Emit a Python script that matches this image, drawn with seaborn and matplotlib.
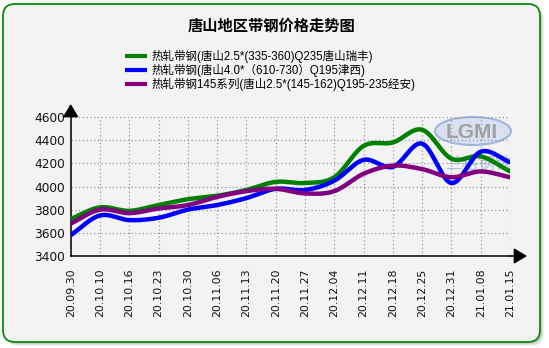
import numpy as np
import pandas as pd
import seaborn as sns
import matplotlib
matplotlib.use("Agg")
import matplotlib.pyplot as plt
from matplotlib.patches import FancyBboxPatch, Ellipse
from matplotlib.lines import Line2D

# ---- data -------------------------------------------------------------
dates = ["20.09.30", "20.10.10", "20.10.16", "20.10.23", "20.10.30", "20.11.06",
         "20.11.13", "20.11.20", "20.11.27", "20.12.04", "20.12.11", "20.12.18",
         "20.12.25", "20.12.31", "21.01.08", "21.01.15"]
ruifeng = [3720, 3820, 3790, 3840, 3890, 3920, 3970, 4040, 4030, 4080,
           4350, 4380, 4490, 4240, 4260, 4130]
jinxi = [3580, 3750, 3710, 3730, 3800, 3840, 3900, 3980, 3970, 4050,
         4230, 4170, 4370, 4030, 4300, 4210]
jingan = [3680, 3800, 3770, 3810, 3840, 3910, 3960, 3980, 3940, 3960,
          4110, 4180, 4150, 4080, 4130, 4080]
series_names = ["热轧带钢(唐山2.5*(335-360)Q235唐山瑞丰)",
                "热轧带钢(唐山4.0*（610-730）Q195津西)",
                "热轧带钢145系列(唐山2.5*(145-162)Q195-235经安)"]
series_colors = ["#008000", "#0000ff", "#800080"]
y_ticks = [3400, 3600, 3800, 4000, 4200, 4400, 4600]
title = "唐山地区带钢价格走势图"

sns.set_style("white")
plt.rcParams["font.family"] = ["Liberation Sans", "Noto Sans CJK SC", "DejaVu Sans"]
mixed = ["Liberation Sans", "Noto Sans CJK SC"]

W, H = 549, 348
fig = plt.figure(figsize=(W / 100, H / 100), dpi=100, facecolor="white")

# ---- rounded panel with soft shadow (pixel coordinates) ----------------
bg = fig.add_axes([0, 0, 1, 1], zorder=-5)
bg.set_xlim(0, W)
bg.set_ylim(H, 0)
bg.axis("off")
for off, a in [(4, 0.10), (3, 0.15), (2, 0.22)]:
    bg.add_patch(FancyBboxPatch((3 + off, 4 + off), 537, 338,
                                boxstyle="round,pad=0,rounding_size=12",
                                fc="#808080", ec="none", alpha=a))
bg.add_patch(FancyBboxPatch((3, 4), 537, 338,
                            boxstyle="round,pad=0,rounding_size=12",
                            fc="#f3f3f3", ec="#0a8a0a", lw=1.3))

# title
bg.text(272, 26, title, ha="center", va="center", fontsize=11,
        fontweight="bold", family=["Noto Sans CJK SC"], color="black")

# legend rows
for i, (name, col) in enumerate(zip(series_names, series_colors)):
    yy = 56 + i * 14
    bg.add_line(Line2D([125, 147], [yy, yy], color=col, lw=3,
                       solid_capstyle="butt"))
    bg.text(152, yy, name, ha="left", va="center", fontsize=8.3,
            family=mixed, color="black")

# watermark logo
bg.add_patch(Ellipse((473, 131), 76, 28, fc="#d3ddf0", ec="#8eaadb",
                     lw=1.5, alpha=0.8, zorder=1))
bg.text(472, 132, "LGMI", ha="center", va="center", fontsize=15,
        fontweight="bold", color="#9a9a9a", alpha=0.9, zorder=1)
bg.text(478, 164, "兰格钢铁", ha="center", va="center", fontsize=12,
        family=["Noto Sans CJK SC"], color="#a4b8da", alpha=0.85, zorder=1)

# ---- main plot ---------------------------------------------------------
ax = fig.add_axes([70.7 / W, (H - 256) / H, (510 - 70.7) / W, 139 / H])
ax.patch.set_visible(False)

x = np.arange(len(dates))


def smooth_curve(values, steps=24):
    """Cubic Hermite (Catmull-Rom) curve through the points for drawing."""
    v = np.asarray(values, float)
    m = np.gradient(v)
    xs, ys = [], []
    for i in range(len(v) - 1):
        t = np.linspace(0, 1, steps, endpoint=False)
        h00 = 2 * t**3 - 3 * t**2 + 1
        h10 = t**3 - 2 * t**2 + t
        h01 = -2 * t**3 + 3 * t**2
        h11 = t**3 - t**2
        xs.append(i + t)
        ys.append(h00 * v[i] + h10 * m[i] + h01 * v[i + 1] + h11 * m[i + 1])
    xs.append([len(v) - 1])
    ys.append([v[-1]])
    return np.concatenate(xs), np.concatenate(ys)


for vals, col in zip([ruifeng, jinxi, jingan], series_colors):
    cx, cy = smooth_curve(vals)
    sns.lineplot(x=cx, y=cy, ax=ax, color=col, lw=3.2, sort=False,
                 estimator=None, zorder=3)

ax.set_xlim(0, len(dates) - 1)
ax.set_ylim(y_ticks[0], y_ticks[-1])
ax.set_xticks(x)
ax.set_xticklabels(dates, rotation=90, fontsize=7.9, family="DejaVu Sans",
                   color="#111111")
ax.set_yticks(y_ticks)
ax.set_yticklabels([str(v) for v in y_ticks], fontsize=8.7,
                   family="DejaVu Sans", color="#111111")
ax.tick_params(axis="both", direction="out", length=3, width=1,
               color="black")
ax.tick_params(axis="y", pad=1)
ax.tick_params(axis="x", pad=6)
ax.grid(True, linestyle=(0, (1, 2)), color="#9a9a9a", lw=0.9)
ax.set_axisbelow(True)
for s in ["top", "right"]:
    ax.spines[s].set_visible(False)
for s in ["left", "bottom"]:
    ax.spines[s].set_color("black")
    ax.spines[s].set_linewidth(1.1)
ax.set_xlabel("")
ax.set_ylabel("")

# arrowed axis extensions
ax.annotate("", xy=(0, 4712), xytext=(0, 4600),
            arrowprops=dict(arrowstyle="-|>,head_length=0.5,head_width=0.3",
                            color="black", lw=1.1, mutation_scale=16,
                            shrinkA=0, shrinkB=0),
            annotation_clip=False)
ax.annotate("", xy=(15.58, 3400), xytext=(15, 3400),
            arrowprops=dict(arrowstyle="-|>,head_length=0.5,head_width=0.3",
                            color="black", lw=1.1, mutation_scale=16,
                            shrinkA=0, shrinkB=0),
            annotation_clip=False)

fig.savefig("out.png", dpi=100, facecolor="white")
